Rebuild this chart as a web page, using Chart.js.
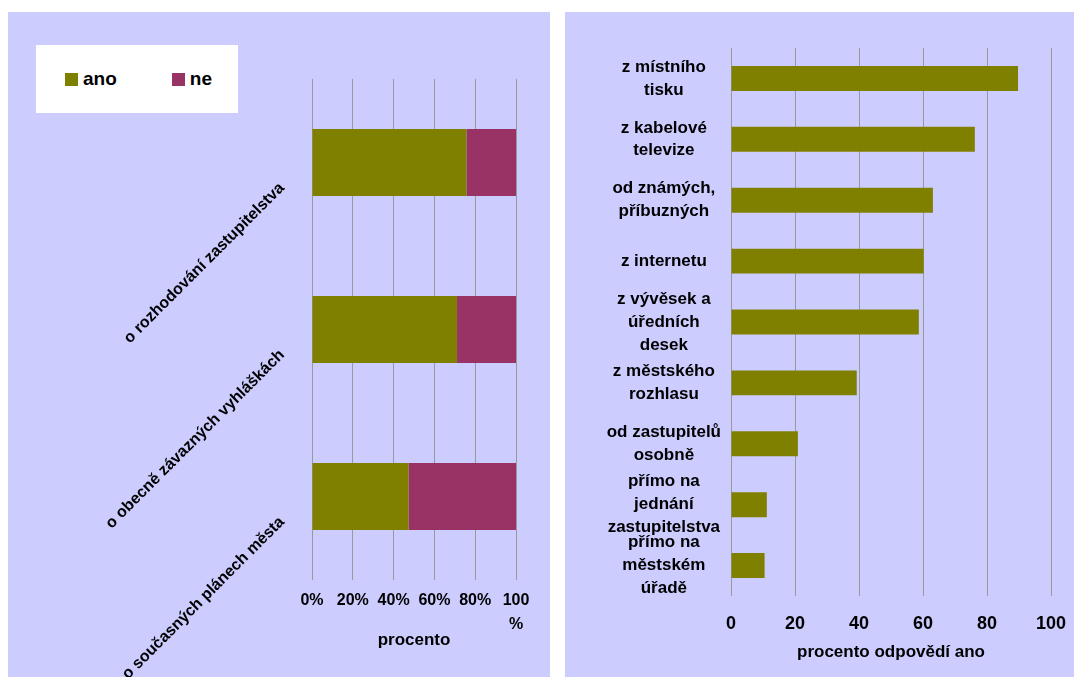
<!DOCTYPE html>
<html lang="cs">
<head>
<meta charset="utf-8">
<title>Informovanost obyvatel</title>
<script src="https://cdn.jsdelivr.net/npm/chart.js@4.4.1/dist/chart.umd.min.js"></script>
<style>
  body { margin:0; background:#fff; width:1074px; height:677px; overflow:hidden; position:relative; font-family:Arial, "Liberation Sans", sans-serif; }
  .panel { position:absolute; background:#ccccff; }
  #leftPanel { left:8px; top:12px; width:542px; height:665px; }
  #rightPanel { left:565px; top:12px; width:509px; height:665px; }
  canvas { position:absolute; left:0; top:0; }
  #legend { position:absolute; left:28px; top:33px; width:202px; height:68px; background:#fff;
            display:flex; align-items:center; padding-left:29px; box-sizing:border-box;
            font-weight:bold; font-size:19px; color:#000; }
  #legend .item { display:flex; align-items:center; margin-right:55px; }
  #legend .box { width:13px; height:13px; margin-right:5px; }
</style>
</head>
<body>
<div class="panel" id="leftPanel">
  <canvas id="leftChart" width="542" height="665"></canvas>
  <div id="legend"></div>
</div>
<div class="panel" id="rightPanel">
  <canvas id="rightChart" width="509" height="665"></canvas>
</div>
<script>
// left chart: 100% stacked
const leftCategories = ['o rozhodování zastupitelstva', 'o obecně závazných vyhláškách', 'o současných plánech města'];
const anoValues = [75.7, 71.1, 47.3];
const neValues = [24.3, 28.9, 52.7];
const leftTickLabels = ['0%', '20%', '40%', '60%', '80%', ['100', '%']];

// right chart: sources of information
const sourceCategories = [
  ['z místního', 'tisku'],
  ['z kabelové', 'televize'],
  ['od známých,', 'příbuzných'],
  ['z internetu'],
  ['z vývěsek a', 'úředních', 'desek'],
  ['z městského', 'rozhlasu'],
  ['od zastupitelů', 'osobně'],
  ['přímo na', 'jednání', 'zastupitelstva'],
  ['přímo na', 'městském', 'úřadě']
];
const sourceValues = [89.7, 76.2, 63.1, 60.2, 58.7, 39.3, 20.9, 11.2, 10.5];
const rightTickLabels = ['0', '20', '40', '60', '80', '100'];

const OLIVE = '#808000';
const PLUM = '#993366';
const GRID = '#999999';

Chart.defaults.font.family = 'Arial, "Liberation Sans", sans-serif';
Chart.defaults.color = '#000';

// keep plot area where the original has it
function fixX(h) {
  return s => { s.height = h; s.paddingLeft = 0; s.paddingRight = 0; };
}
function fixY(w) {
  return s => { s.width = w; s.paddingTop = 0; s.paddingBottom = 0; };
}

const leftChart = new Chart(document.getElementById('leftChart'), {
  type: 'bar',
  data: {
    labels: leftCategories,
    datasets: [
      { label: 'ano', data: anoValues, backgroundColor: OLIVE },
      { label: 'ne', data: neValues, backgroundColor: PLUM }
    ]
  },
  options: {
    indexAxis: 'y',
    responsive: false,
    animation: false,
    layout: { padding: { left: 0, top: 67, right: 34, bottom: 0 } },
    datasets: { bar: { barPercentage: 0.4, categoryPercentage: 1 } },
    plugins: { legend: { display: false }, tooltip: { enabled: false } },
    scales: {
      x: {
        stacked: true, min: 0, max: 100,
        grid: { color: GRID, drawTicks: false },
        border: { display: false },
        ticks: {
          stepSize: 20, padding: 9,
          font: { size: 16, weight: 'bold', lineHeight: 1.5 },
          callback: (v, i) => leftTickLabels[i]
        },
        title: { display: true, text: 'procento', font: { size: 17, weight: 'bold' }, padding: { top: 0, bottom: 26 } },
        afterFit: fixX(97)
      },
      y: {
        stacked: true,
        grid: { display: false },
        border: { display: false },
        ticks: { autoSkip: false, minRotation: 45, maxRotation: 45, padding: 22, labelOffset: 23, font: { size: 16, weight: 'bold' } },
        afterFit: fixY(304)
      }
    }
  }
});

// html legend from the datasets
const legendEl = document.getElementById('legend');
leftChart.data.datasets.forEach(ds => {
  const item = document.createElement('span');
  item.className = 'item';
  item.innerHTML = `<span class="box" style="background:${ds.backgroundColor}"></span>${ds.label}`;
  legendEl.appendChild(item);
});

new Chart(document.getElementById('rightChart'), {
  type: 'bar',
  data: {
    labels: sourceCategories,
    datasets: [{ label: 'procento odpovědí ano', data: sourceValues, backgroundColor: OLIVE }]
  },
  options: {
    indexAxis: 'y',
    responsive: false,
    animation: false,
    layout: { padding: { left: 0, top: 36, right: 23, bottom: 0 } },
    datasets: { bar: { barPercentage: 0.41, categoryPercentage: 1 } },
    plugins: { legend: { display: false }, tooltip: { enabled: false } },
    scales: {
      x: {
        min: 0, max: 100,
        grid: { color: GRID, drawTicks: false },
        border: { display: false },
        ticks: {
          stepSize: 20, padding: 17,
          font: { size: 18, weight: 'bold' },
          callback: (v, i) => rightTickLabels[i]
        },
        title: { display: true, text: 'procento odpovědí ano', font: { size: 17, weight: 'bold' }, padding: { top: 0, bottom: 14 } },
        afterFit: fixX(81)
      },
      y: {
        grid: { display: false },
        border: { display: false },
        ticks: { autoSkip: false, crossAlign: 'center', padding: 2, font: { size: 17, weight: 'bold', lineHeight: 1.35 } },
        afterFit: fixY(166)
      }
    }
  }
});
</script>
</body>
</html>
